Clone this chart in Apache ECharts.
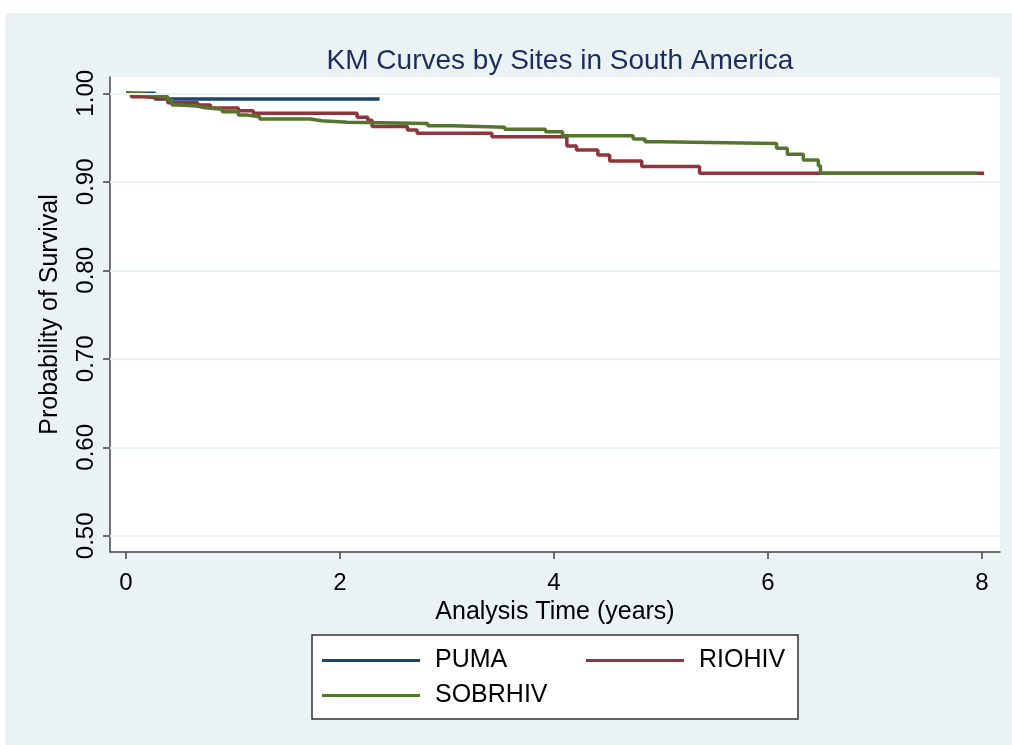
<!DOCTYPE html>
<html>
<head>
<meta charset="utf-8">
<script src="https://cdn.jsdelivr.net/npm/echarts@6/dist/echarts.min.js"></script>
<style>
html,body{margin:0;padding:0;background:#fff;}
#chart{width:1012px;height:745px;}
</style>
</head>
<body>
<div id="chart"></div>
<script>
// ---- data (time in years, survival probability) ----
const seriesNames = ["PUMA", "RIOHIV", "SOBRHIV"];
const pumaData = [[0,1],[0.27,0.9936],[2.37,0.9936]];
const riohivData = [[0,1],[0.05,0.996],[0.16,0.9944],[0.39,0.9894],[0.67,0.9868],[0.79,0.9834],[1.05,0.9803],[1.19,0.9774],[2.16,0.9729],[2.26,0.9695],[2.30,0.9625],[2.63,0.9585],[2.72,0.9548],[3.42,0.951],[4.12,0.9405],[4.21,0.936],[4.41,0.9303],[4.52,0.9235],[4.82,0.9173],[5.36,0.9096],[8.02,0.9096]];
const sobrhivData = [[0,1],[0.08,0.998],[0.25,0.9962],[0.39,0.992],[0.43,0.9868],[0.49,0.9856],[0.66,0.9837],[0.74,0.9819],[0.90,0.9792],[1.05,0.9755],[1.13,0.9736],[1.25,0.971],[1.72,0.969],[1.83,0.9672],[2.07,0.9659],[2.82,0.9634],[3.05,0.9616],[3.54,0.9593],[3.92,0.9566],[4.08,0.9521],[4.74,0.9484],[4.85,0.9453],[4.99,0.9433],[6.08,0.9379],[6.18,0.9311],[6.33,0.9246],[6.47,0.918],[6.49,0.9096],[7.95,0.9096]];
const xTicks = [0, 2, 4, 6, 8];
const yTicks = [0.5, 0.6, 0.7, 0.8, 0.9, 1.0];
const titleText = "KM Curves by Sites in South America";
const xName = "Analysis Time (years)";
const yName = "Probability of Survival";

const colors = ["#1a476f", "#90353b", "#55752f"];
const FONT = "Liberation Sans, Arial, sans-serif";

const chart = echarts.init(document.getElementById('chart'), null, {renderer: 'canvas'});

function legendItem(name, left, top) {
  return {
    data: [name],
    left: left, top: top,
    orient: 'horizontal',
    padding: 0,
    itemWidth: 98, itemHeight: 3,
    icon: 'rect',
    selectedMode: false,
    textStyle: {fontSize: 25, color: '#000', fontFamily: FONT, padding: [0,0,0,10]}
  };
}

const option = {
  animation: false,
  backgroundColor: '#EAF2F3',
  title: {
    text: titleText,
    left: 555, top: 42, textAlign: 'center',
    textStyle: {fontSize: 28, fontWeight: 'normal', color: '#1c2d5c', fontFamily: FONT}
  },
  graphic: [
    {type: 'rect', shape: {x: 0, y: 0, width: 1012, height: 13}, style: {fill: '#fff'}, silent: true},
    {type: 'rect', shape: {x: 0, y: 0, width: 5, height: 745}, style: {fill: '#fff'}, silent: true},
    {type: 'rect', shape: {x: 312, y: 635, width: 486, height: 84}, style: {fill: '#fff', stroke: '#333', lineWidth: 1.5}, silent: true}
  ],
  legend: [
    legendItem(seriesNames[0], 322, 648),
    legendItem(seriesNames[1], 586, 648),
    legendItem(seriesNames[2], 322, 683)
  ],
  grid: {
    left: 110, right: 12, top: 77, bottom: 193,
    containLabel: false,
    show: true, backgroundColor: '#fff', borderWidth: 0
  },
  xAxis: {
    type: 'value',
    min: -0.1495, max: 8.168,
    name: xName, nameLocation: 'middle', nameGap: 42,
    nameTextStyle: {fontSize: 25, color: '#000', fontFamily: FONT},
    axisLine: {show: true, onZero: false, lineStyle: {color: '#444', width: 1.5}},
    axisTick: {show: true, length: 7, customValues: xTicks, lineStyle: {color: '#444', width: 1.5}},
    axisLabel: {customValues: xTicks, fontSize: 24, color: '#000', fontFamily: FONT, margin: 19},
    splitLine: {show: false}
  },
  yAxis: {
    type: 'value',
    min: 0.4817, max: 1.0184,
    name: yName, nameLocation: 'middle', nameGap: 47, nameRotate: 90,
    nameTextStyle: {fontSize: 25, color: '#000', fontFamily: FONT},
    axisLine: {show: true, onZero: false, lineStyle: {color: '#444', width: 1.5}},
    axisTick: {show: true, length: 7, customValues: yTicks, lineStyle: {color: '#444', width: 1.5}},
    axisLabel: {customValues: yTicks, rotate: 90, fontSize: 24, color: '#000', fontFamily: FONT, margin: 12,
      formatter: v => v.toFixed(2)},
    splitLine: {show: false}
  },
  series: [
    {
      name: '_grid', type: 'line', data: [], z: 1, silent: true,
      markLine: {
        silent: true, symbol: 'none', label: {show: false},
        lineStyle: {color: '#EAF2F3', width: 2, type: 'solid'},
        data: yTicks.map(v => ({yAxis: v}))
      }
    },
    {name: seriesNames[0], type: 'line', step: 'end', data: pumaData, showSymbol: false, symbol: 'none',
     color: colors[0], lineStyle: {width: 3.5, color: colors[0]}, z: 3},
    {name: seriesNames[1], type: 'line', step: 'end', data: riohivData, showSymbol: false, symbol: 'none',
     color: colors[1], lineStyle: {width: 3.5, color: colors[1]}, z: 3},
    {name: seriesNames[2], type: 'line', step: 'end', data: sobrhivData, showSymbol: false, symbol: 'none',
     color: colors[2], lineStyle: {width: 3.5, color: colors[2]}, z: 3}
  ]
};
chart.setOption(option);
</script>
</body>
</html>
